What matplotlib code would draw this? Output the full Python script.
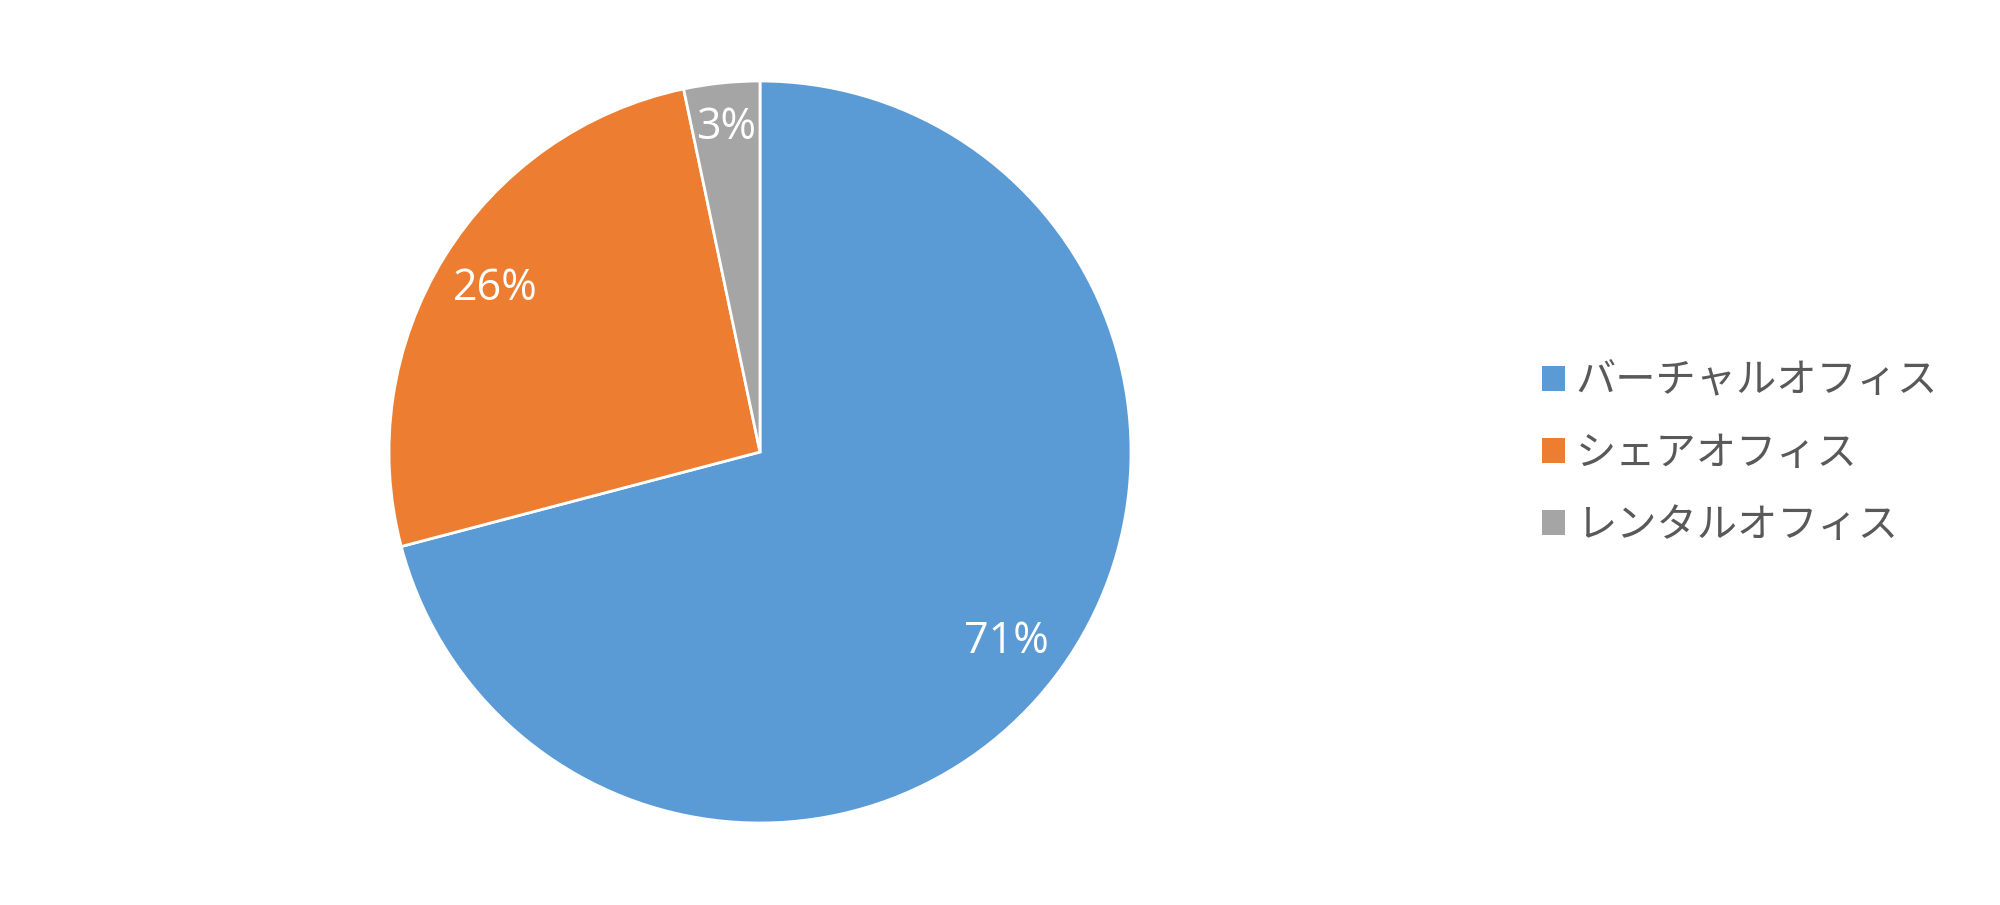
import matplotlib
matplotlib.use("Agg")
import matplotlib.pyplot as plt
from matplotlib.patches import Patch
import numpy as np

categories = ["バーチャルオフィス", "シェアオフィス", "レンタルオフィス"]
values = [70.9, 25.8, 3.3]
colors = ["#5B9BD5", "#ED7D31", "#A5A5A5"]

W, H = 2000, 905
fig = plt.figure(figsize=(W / 100, H / 100), dpi=100)
fig.patch.set_facecolor("white")

cx, cy, r = 760, 453, 371
ax = fig.add_axes([(cx - r) / W, (cy - r) / H, 2 * r / W, 2 * r / H])

wedges, texts, autotexts = ax.pie(
    values, colors=colors, startangle=90, counterclock=False,
    autopct=lambda p: f"{p:.0f}%", pctdistance=0.84, radius=1,
    wedgeprops=dict(edgecolor="white", linewidth=2),
    textprops=dict(color="white", fontsize=31, family=["Open Sans", "DejaVu Sans"]),
)
# small slice label sits slightly further out
t = autotexts[2]
x, y = t.get_position()
d = np.hypot(x, y)
t.set_position((x / d * 0.88, y / d * 0.88))

ax.set_xlim(-1, 1)
ax.set_ylim(-1, 1)
ax.set_aspect("equal")
ax.axis("off")

fs = 29
handles = [Patch(facecolor=c, edgecolor="none") for c in colors]
leg = fig.legend(
    handles, categories, loc="center left",
    bbox_to_anchor=(1530 / W, 1 - 453 / H), frameon=False,
    prop=dict(family=["Noto Sans CJK JP", "DejaVu Sans"], size=fs),
    handlelength=0.57, handleheight=0.57, handletextpad=0.27,
    labelspacing=0.77, borderpad=0.3, borderaxespad=0,
)
for txt in leg.get_texts():
    txt.set_color("#595959")

fig.savefig("out.png", dpi=100, facecolor="white")
